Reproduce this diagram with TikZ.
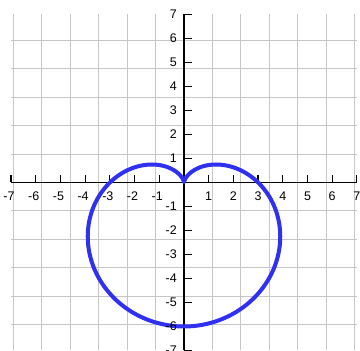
\documentclass[tikz,border=0pt]{standalone}
\usepackage{fontspec}
\setmainfont{Liberation Sans}
\usepackage{tikz}
\definecolor{curveblue}{RGB}{48,48,240}

\begin{document}
\begin{tikzpicture}[x=24.7pt,y=24pt,
    lab/.style={inner sep=0pt,font=\fontsize{12.5}{14}\selectfont}]
  \useasboundingbox (-184pt,-168.5pt) rectangle (176pt,182.5pt);
  \draw[gray!45,line width=1pt] (-7,-7) grid (7,7);
  \draw[line width=1.4pt] (-7,0) -- (7,0);
  \draw[line width=1.4pt] (0,-7) -- (0,7);
  \foreach \t in {-7,...,7} {
    \draw[line width=1.2pt] (\t,0) -- ++(0pt,7.5pt);
    \draw[line width=1.2pt] (0,\t) -- ++(8pt,0pt);
  }
  % r = 3 - 3 sin(theta)
  \draw[curveblue,line width=4pt,line join=round,line cap=round,
        samples=241,domain=-90:270,variable=\a]
    plot ({(3-3*sin(\a))*cos(\a)},{(3-3*sin(\a))*sin(\a)});
  \foreach \n in {1,...,7} {
    \node[lab,anchor=base] at ([yshift=-18pt]\n,0) {\n};
    \node[lab,anchor=base] at ([yshift=-18pt]-\n,0) {\llap{-}\n};
    \node[lab,anchor=east] at ([xshift=-7pt]0,\n) {\n};
    \node[lab,anchor=east] at ([xshift=-7pt]0,-\n) {-\n};
  }
\end{tikzpicture}
\end{document}
